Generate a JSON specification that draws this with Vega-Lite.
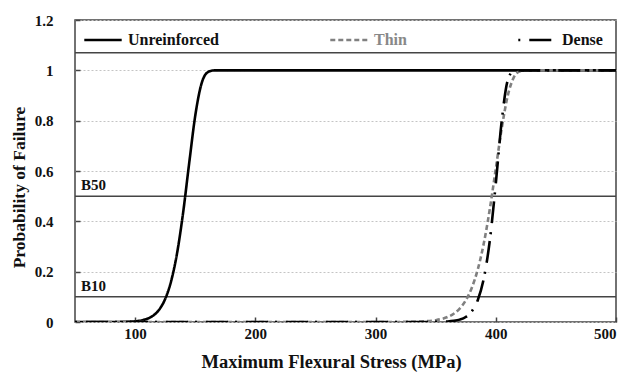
{
  "$schema": "https://vega.github.io/schema/vega-lite/v6.json",
  "width": 541,
  "height": 302,
  "autosize": {"type": "none"},
  "padding": {"left": 75, "top": 20, "right": 23, "bottom": 50},
  "background": "white",
  "config": {
    "font": "Liberation Serif",
    "view": {"stroke": "#444", "strokeWidth": 1.5},
    "axis": {
      "labelFont": "Liberation Serif",
      "labelFontWeight": "bold",
      "labelFontSize": 15,
      "labelColor": "#111",
      "titleFont": "Liberation Serif",
      "titleFontWeight": "bold",
      "titleColor": "#111",
      "domain": false,
      "gridColor": "#c4c4c4",
      "gridDash": [2, 2],
      "gridWidth": 1,
      "tickColor": "#444",
      "tickWidth": 1.5
    }
  },
  "datasets": {
    "curves": [
      {"series": "Unreinforced", "x": 50, "p": 0},
      {"series": "Unreinforced", "x": 80, "p": 0.0001},
      {"series": "Unreinforced", "x": 90, "p": 0.0005},
      {"series": "Unreinforced", "x": 100, "p": 0.0028},
      {"series": "Unreinforced", "x": 105, "p": 0.0061},
      {"series": "Unreinforced", "x": 110, "p": 0.0126},
      {"series": "Unreinforced", "x": 115, "p": 0.0254},
      {"series": "Unreinforced", "x": 120, "p": 0.0491},
      {"series": "Unreinforced", "x": 125, "p": 0.0914},
      {"series": "Unreinforced", "x": 130, "p": 0.1632},
      {"series": "Unreinforced", "x": 135, "p": 0.2762},
      {"series": "Unreinforced", "x": 140, "p": 0.4369},
      {"series": "Unreinforced", "x": 145, "p": 0.6321},
      {"series": "Unreinforced", "x": 150, "p": 0.819},
      {"series": "Unreinforced", "x": 155, "p": 0.9433},
      {"series": "Unreinforced", "x": 160, "p": 0.991},
      {"series": "Unreinforced", "x": 165, "p": 0.9996},
      {"series": "Unreinforced", "x": 170, "p": 1},
      {"series": "Unreinforced", "x": 500, "p": 1},
      {"series": "Thin", "x": 50, "p": 0},
      {"series": "Thin", "x": 300, "p": 0},
      {"series": "Thin", "x": 320, "p": 0.0003},
      {"series": "Thin", "x": 330, "p": 0.0009},
      {"series": "Thin", "x": 340, "p": 0.0025},
      {"series": "Thin", "x": 350, "p": 0.0073},
      {"series": "Thin", "x": 355, "p": 0.0121},
      {"series": "Thin", "x": 360, "p": 0.02},
      {"series": "Thin", "x": 365, "p": 0.0329},
      {"series": "Thin", "x": 370, "p": 0.0535},
      {"series": "Thin", "x": 375, "p": 0.0857},
      {"series": "Thin", "x": 380, "p": 0.1352},
      {"series": "Thin", "x": 385, "p": 0.2083},
      {"series": "Thin", "x": 390, "p": 0.3117},
      {"series": "Thin", "x": 395, "p": 0.4477},
      {"series": "Thin", "x": 400, "p": 0.6087},
      {"series": "Thin", "x": 405, "p": 0.7712},
      {"series": "Thin", "x": 410, "p": 0.9002},
      {"series": "Thin", "x": 415, "p": 0.9722},
      {"series": "Thin", "x": 420, "p": 0.9961},
      {"series": "Thin", "x": 425, "p": 0.9998},
      {"series": "Thin", "x": 430, "p": 1},
      {"series": "Thin", "x": 500, "p": 1},
      {"series": "Dense", "x": 50, "p": 0},
      {"series": "Dense", "x": 340, "p": 0.0001},
      {"series": "Dense", "x": 350, "p": 0.0004},
      {"series": "Dense", "x": 360, "p": 0.002},
      {"series": "Dense", "x": 365, "p": 0.0044},
      {"series": "Dense", "x": 370, "p": 0.0094},
      {"series": "Dense", "x": 375, "p": 0.0199},
      {"series": "Dense", "x": 380, "p": 0.0421},
      {"series": "Dense", "x": 385, "p": 0.0866},
      {"series": "Dense", "x": 390, "p": 0.1719},
      {"series": "Dense", "x": 395, "p": 0.3226},
      {"series": "Dense", "x": 400, "p": 0.5493},
      {"series": "Dense", "x": 405, "p": 0.8013},
      {"series": "Dense", "x": 410, "p": 0.9612},
      {"series": "Dense", "x": 415, "p": 0.9985},
      {"series": "Dense", "x": 420, "p": 1},
      {"series": "Dense", "x": 500, "p": 1}
    ],
    "refs": [
      {"label": "B50", "p": 0.5},
      {"label": "B10", "p": 0.1}
    ],
    "legendline": [
      {"p": 1.07}
    ]
  },
  "layer": [
    {
      "data": {"name": "refs"},
      "mark": {"type": "rule", "color": "#444", "strokeWidth": 1.5},
      "encoding": {
        "y": {"field": "p", "type": "quantitative", "scale": {"domain": [0, 1.2]}}
      }
    },
    {
      "data": {"name": "legendline"},
      "mark": {"type": "rule", "color": "#444", "strokeWidth": 1.5},
      "encoding": {
        "y": {"field": "p", "type": "quantitative"}
      }
    },
    {
      "data": {"name": "refs"},
      "mark": {"type": "text", "align": "left", "baseline": "bottom", "dx": 6, "dy": -3, "font": "Liberation Serif", "fontWeight": "bold", "fontSize": 15, "color": "#111"},
      "encoding": {
        "x": {"datum": 50, "type": "quantitative"},
        "y": {"field": "p", "type": "quantitative"},
        "text": {"field": "label"}
      }
    },
    {
      "data": {"name": "curves"},
      "mark": {"type": "line", "interpolate": "monotone", "strokeWidth": 2.6, "clip": true},
      "encoding": {
        "x": {
          "field": "x", "type": "quantitative",
          "scale": {"domain": [50, 500], "nice": false, "zero": false},
          "axis": {"values": [100, 200, 300, 400, 500], "title": "Maximum Flexural Stress (MPa)", "titleFontSize": 18.5, "labelPadding": 9, "titlePadding": 11, "titleX": 256, "tickSize": -5}
        },
        "y": {
          "field": "p", "type": "quantitative",
          "scale": {"domain": [0, 1.2], "nice": false},
          "axis": {"values": [0, 0.2, 0.4, 0.6, 0.8, 1, 1.2], "format": "~g", "title": "Probability of Failure", "titleFontSize": 17.5, "titleY": 167, "labelPadding": 27, "titlePadding": 6, "tickSize": -5}
        },
        "color": {
          "field": "series", "type": "nominal",
          "scale": {"domain": ["Unreinforced", "Thin", "Dense"], "range": ["#000000", "#808080", "#000000"]},
          "legend": {
            "title": null,
            "orient": "none",
            "direction": "horizontal",
            "legendX": 8,
            "legendY": 0,
            "padding": 0,
            "symbolType": "stroke",
            "symbolSize": 1400,
            "symbolStrokeWidth": 2.5,
            "labelFont": "Liberation Serif",
            "labelFontWeight": "bold",
            "labelFontSize": 16,
            "labelColor": {"expr": "datum.label === 'Thin' ? '#888888' : '#111111'"},
            "labelOffset": 5,
            "columnPadding": 106
          }
        },
        "strokeDash": {
          "field": "series", "type": "nominal",
          "scale": {"domain": ["Unreinforced", "Thin", "Dense"], "range": [[1, 0], [5, 3], [2, 9, 22, 7]]},
          "legend": {
            "title": null,
            "orient": "none",
            "direction": "horizontal",
            "legendX": 8,
            "legendY": 0,
            "padding": 0,
            "symbolType": "stroke",
            "symbolSize": 1400,
            "symbolStrokeWidth": 2.5,
            "labelFont": "Liberation Serif",
            "labelFontWeight": "bold",
            "labelFontSize": 16,
            "labelColor": {"expr": "datum.label === 'Thin' ? '#888888' : '#111111'"},
            "labelOffset": 5,
            "columnPadding": 106
          }
        }
      }
    }
  ]
}
